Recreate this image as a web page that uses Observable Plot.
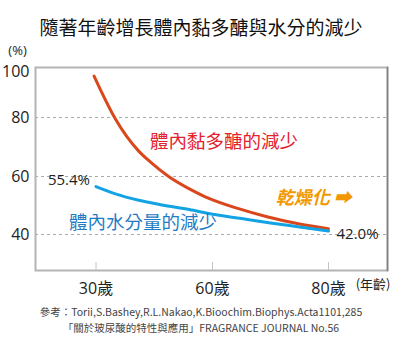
<!DOCTYPE html>
<html><head><meta charset="utf-8">
<script src="https://cdn.jsdelivr.net/npm/d3@7"></script>
<script src="https://cdn.jsdelivr.net/npm/@observablehq/plot@0.6"></script>
<style>
body{margin:0;background:#fff;width:402px;font-family:"Open Sans","Noto Sans CJK TC",sans-serif;}
#title{height:40px;box-sizing:border-box;padding-top:16px;line-height:22px;font-size:19px;text-align:center;color:#111;font-family:"Noto Sans CJK TC",sans-serif;}
#chart svg{display:block}
#cap{font-size:10.5px;color:#444;text-align:center;line-height:16px;font-family:"Noto Sans CJK TC",sans-serif;padding-top:4px}
</style></head><body>
<div id="title"></div>
<div id="chart"></div>
<div id="cap"></div>
<script>
const titleText = "隨著年齡增長體內黏多醣與水分的減少";
const captionLines = [
  "參考：Torii,S.Bashey,R.L.Nakao,K.Bioochim.Biophys.Acta1101,285",
  "「關於玻尿酸的特性與應用」FRAGRANCE JOURNAL No.56"
];
const xTickAges = [30, 60, 80];
const xTickLabels = ["30歲", "60歲", "80歲"];
const yTicks = [40, 60, 80, 100];
const gridValues = [40, 60, 80];
const redAges = [29.5, 35, 41, 44.2, 48.7, 53.8, 58, 64.5, 69.4, 75, 80];
const redValues = [98, 79.5, 68.6, 64.7, 60, 55.9, 53.1, 48.9, 46.1, 43.6, 42];
const blueAges = [30, 35, 41, 47, 54, 60, 65, 70, 75, 80];
const blueValues = [56.5, 54, 51.8, 50.2, 48.6, 47.0, 45.5, 44.0, 42.6, 41.2];
const redName = "體內黏多醣的減少";
const blueName = "體內水分量的減少";
const dryText = "乾燥化 ➡";
const startLabel = "55.4%";
const endLabel = "42.0%";

document.getElementById("title").textContent = titleText;
document.getElementById("cap").innerHTML = captionLines.map(s => `<div>${s}</div>`).join("");

const red = redAges.map((a, i) => ({age: a, value: redValues[i]}));
const blue = blueAges.map((a, i) => ({age: a, value: blueValues[i]}));

const font = '"Open Sans","Noto Sans CJK TC",sans-serif';
const cjk = '"Noto Sans CJK TC",sans-serif';

const chart = Plot.plot({
  width: 402,
  height: 260,
  marginLeft: 35,
  marginRight: 15,
  marginTop: 27,
  marginBottom: 30,
  style: {fontFamily: font, background: "#fff"},
  x: {type: "linear", domain: [30, 60, 80], range: [95.5, 212, 328]},
  y: {type: "linear", domain: [40, 60, 80, 100], range: [194, 136, 77, 31]},
  marks: [
    Plot.gridY(gridValues, {stroke: "#aaa", strokeOpacity: 1, strokeDasharray: "3,3"}),
    Plot.frame({stroke: "#b4b4b4", strokeWidth: 2}),
    Plot.frame({anchor: "right", stroke: "#808080", strokeWidth: 1.5}),
    Plot.axisY(yTicks, {tickSize: 0, tickPadding: 6, fontSize: 16, fill: "#222", label: null}),
    Plot.axisX(xTickAges, {tickSize: -8, tickPadding: 20, fontSize: 16, stroke: "#c4c4c4", fill: "#222", label: null,
      tickFormat: d => xTickLabels[xTickAges.indexOf(d)]}),
    Plot.line(red, {x: "age", y: "value", stroke: "#d9481c", strokeWidth: 3, curve: "monotone-x"}),
    Plot.line(blue, {x: "age", y: "value", stroke: "#12a3e3", strokeWidth: 3, curve: "monotone-x"}),
    Plot.text([blue[0]], {x: "age", y: "value", text: () => startLabel, textAnchor: "end", dx: -6, dy: -6, fontSize: 15, fill: "#222"}),
    Plot.text([blue[blue.length - 1]], {x: "age", y: "value", text: () => endLabel, textAnchor: "start", dx: 8, dy: 3, fontSize: 15, fill: "#222"}),
    Plot.text([{age: 62, value: 71.5}], {x: "age", y: "value", text: () => redName, fontSize: 18.5, fill: "#e3222b", fontFamily: cjk}),
    Plot.text([{age: 42.1, value: 43.8}], {x: "age", y: "value", text: () => blueName, fontSize: 18.5, fill: "#1f7cc4", fontFamily: cjk}),
    Plot.text([{age: 70.9, value: 52.4}], {x: "age", y: "value", text: () => dryText, textAnchor: "start", fontSize: 18, fill: "#f39800", fontStyle: "italic", fontWeight: "bold", fontFamily: cjk}),
    Plot.text(["(%)"], {frameAnchor: "top-left", text: d => d, textAnchor: "middle", dx: -18, dy: -22, fontSize: 13, fill: "#222"}),
    Plot.text(["(年齡)"], {frameAnchor: "bottom-right", text: d => d, textAnchor: "end", dx: 3, dy: 18, fontSize: 13, fill: "#222", fontFamily: cjk})
  ]
});
document.getElementById("chart").appendChild(chart);
</script>
</body></html>
